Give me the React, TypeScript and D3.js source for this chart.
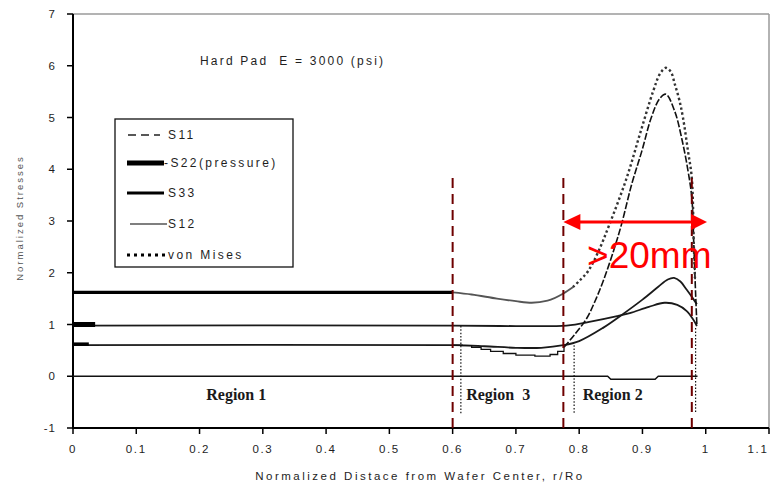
import React from "react";
import * as d3 from "d3";

type Pt = [number, number];

// axes
const xTicks = [0, 0.1, 0.2, 0.3, 0.4, 0.5, 0.6, 0.7, 0.8, 0.9, 1, 1.1];
const xTickLabels = ["0", "0.1", "0.2", "0.3", "0.4", "0.5", "0.6", "0.7", "0.8", "0.9", "1", "1.1"];
const yTicks = [-1, 0, 1, 2, 3, 4, 5, 6, 7];

// von Mises (flat part drawn solid/thick, then curve, then dotted peak)
const vonMisesFlat: Pt[] = [[0, 1.62], [0.6, 1.62]];
const vonMisesDip: Pt[] = [[0.6, 1.62], [0.63, 1.58], [0.67, 1.5], [0.7, 1.45], [0.725, 1.42], [0.75, 1.46], [0.775, 1.6], [0.79, 1.72]];
const vonMisesPeak: Pt[] = [
  [0.79, 1.72], [0.8, 1.84], [0.814, 2.03], [0.83, 2.4], [0.848, 2.94], [0.875, 3.83], [0.896, 4.68],
  [0.917, 5.51], [0.928, 5.85], [0.937, 5.96], [0.945, 5.88], [0.951, 5.65], [0.958, 5.35], [0.964, 5.0],
  [0.972, 4.35], [0.978, 3.83], [0.981, 2.6], [0.983, 1.9],
];

// S11: stepped dip then dashed spike
const s11Step: Pt[] = [
  [0.6, 0.6], [0.615, 0.59], [0.63, 0.56], [0.645, 0.52], [0.66, 0.48], [0.68, 0.44], [0.7, 0.41],
  [0.73, 0.39], [0.754, 0.42], [0.766, 0.48], [0.776, 0.56],
];
const s11Spike: Pt[] = [
  [0.776, 0.56], [0.793, 0.81], [0.812, 1.12], [0.825, 1.45], [0.838, 1.84], [0.855, 2.45], [0.867, 2.94],
  [0.883, 3.71], [0.899, 4.35], [0.914, 5.0], [0.927, 5.36], [0.937, 5.45], [0.951, 5.12], [0.962, 4.6],
  [0.972, 3.97], [0.978, 3.45], [0.981, 2.6], [0.984, 1.6], [0.986, 1.0],
];

const s33: Pt[] = [
  [0, 0.6], [0.6, 0.6], [0.65, 0.58], [0.7, 0.55], [0.74, 0.55], [0.775, 0.6], [0.8, 0.68], [0.837, 0.93],
  [0.869, 1.2], [0.9, 1.48], [0.925, 1.73], [0.94, 1.87], [0.95, 1.9], [0.96, 1.83], [0.97, 1.67],
  [0.98, 1.5], [0.986, 1.39],
];
const s33Stub: Pt[] = [[0, 0.62], [0.025, 0.62]];

const s22: Pt[] = [
  [0, 0.98], [0.6, 0.98], [0.7, 0.97], [0.78, 0.98], [0.82, 1.06], [0.86, 1.16], [0.88, 1.22], [0.91, 1.34],
  [0.935, 1.42], [0.955, 1.38], [0.97, 1.26], [0.98, 1.1], [0.986, 0.97],
];
const s22Stub: Pt[] = [[0, 1], [0.035, 1]];

const s12: Pt[] = [[0, 0], [0.845, 0], [0.85, -0.06], [0.92, -0.06], [0.925, 0], [0.987, 0]];

// region markers
const redBounds = [0.6, 0.775, 0.978];
const redTop = 3.83;
const dotBounds: Pt[] = [[0.613, 0.97], [0.792, 0.6], [0.984, 0.93]];
const dotBottom = -0.72;
const regionLabels = ["Region 1", "Region  3", "Region 2"];
const regionX = [0.258, 0.672, 0.853];
const regionY = -0.36;

const legendNames = ["S11", "-S22(pressure)", "S33", "S12", "von Mises"];

const W = 777;
const H = 484;

export default function App() {
  const x = d3.scaleLinear().domain([0, 1.1]).range([73, 769]);
  const y = d3.scaleLinear().domain([-1, 7]).range([428, 14]);

  const lin = d3.line<Pt>().x((d) => x(d[0])).y((d) => y(d[1]));
  const smooth = d3.line<Pt>().x((d) => x(d[0])).y((d) => y(d[1])).curve(d3.curveMonotoneX);
  const step = d3.line<Pt>().x((d) => x(d[0])).y((d) => y(d[1])).curve(d3.curveStepAfter);
  const cr = d3.line<Pt>().x((d) => x(d[0])).y((d) => y(d[1])).curve(d3.curveCatmullRom.alpha(0.5));

  const font = "'Liberation Sans', Arial, sans-serif";
  const txt = "#1e1e1e";

  const arrowY = y(2.98);
  const ax0 = x(0.775);
  const ax1 = x(1.002);

  const legendY = [135, 163, 193, 224, 255];

  return (
    <svg width={W} height={H} style={{ position: "absolute", left: 0, top: 0, background: "#fff" }}>
      {/* frame */}
      <line x1={x(0)} x2={x(1.1)} y1={y(7)} y2={y(7)} stroke="#9a9a9a" strokeWidth={1.5} />
      <line x1={x(1.1)} x2={x(1.1)} y1={y(7)} y2={y(-1)} stroke="#9a9a9a" strokeWidth={1.5} />

      {/* y axis */}
      <line x1={x(0)} x2={x(0)} y1={y(7)} y2={y(-1) + 1} stroke="#000" strokeWidth={2} />
      {yTicks.map((t) => (
        <g key={"y" + t}>
          <line x1={x(0) - 6} x2={x(0)} y1={y(t)} y2={y(t)} stroke="#000" strokeWidth={1.5} />
          <text x={56} y={y(t)} dy="0.35em" textAnchor="end" fontFamily={font} fontSize={11.5} letterSpacing={1} fill={txt}>
            {t}
          </text>
        </g>
      ))}
      {/* x axis */}
      <line x1={x(0) - 1} x2={x(1.1)} y1={y(-1)} y2={y(-1)} stroke="#000" strokeWidth={2} />
      {xTicks.map((t, i) => (
        <g key={"x" + t}>
          <line x1={x(t)} x2={x(t)} y1={y(-1)} y2={y(-1) + 6} stroke="#000" strokeWidth={1.5} />
          <text
            x={Math.min(x(t), 758)}
            y={449}
            dy="0.35em"
            textAnchor="middle"
            fontFamily={font}
            fontSize={11.5}
            letterSpacing={1.6}
            fill={txt}
          >
            {xTickLabels[i]}
          </text>
        </g>
      ))}

      <text x={420} y={476} dy="0.35em" textAnchor="middle" fontFamily={font} fontSize={11.5} letterSpacing={2.5} fill={txt}>
        Normalized Distace from Wafer Center, r/Ro
      </text>
      <text
        transform={`translate(20,218) rotate(-90)`}
        dy="0.35em"
        textAnchor="middle"
        fontFamily={font}
        fontSize={9.5}
        letterSpacing={2}
        fill="#555"
      >
        Normalized Stresses
      </text>

      <text x={200} y={61} dy="0.35em" fontFamily={font} fontSize={12} letterSpacing={2.2} fill={txt} style={{ whiteSpace: "pre" }}>
        Hard Pad  E = 3000 (psi)
      </text>

      {/* series */}
      <path d={lin(s12) || ""} fill="none" stroke="#111" strokeWidth={1.5} />
      <path d={cr(s22) || ""} fill="none" stroke="#1a1a1a" strokeWidth={1.8} />
      <path d={lin(s22Stub) || ""} fill="none" stroke="#000" strokeWidth={5} />
      <path d={cr(s33) || ""} fill="none" stroke="#1a1a1a" strokeWidth={1.8} />
      <path d={lin(s33Stub) || ""} fill="none" stroke="#000" strokeWidth={3.5} />
      <path d={step(s11Step) || ""} fill="none" stroke="#111" strokeWidth={1.3} />
      <path d={cr(s11Spike) || ""} fill="none" stroke="#111" strokeWidth={1.6} strokeDasharray="7,2" />
      <path d={lin(vonMisesFlat) || ""} fill="none" stroke="#000" strokeWidth={3.2} />
      <path d={smooth(vonMisesDip) || ""} fill="none" stroke="#555" strokeWidth={1.8} />
      <path d={cr(vonMisesPeak) || ""} fill="none" stroke="#333" strokeWidth={2.4} strokeDasharray="2.4,2.6" />

      {/* region bounds */}
      {redBounds.map((b) => (
        <line key={"r" + b} x1={x(b)} x2={x(b)} y1={y(redTop)} y2={y(-1)} stroke="#6e0000" strokeWidth={2} strokeDasharray="10,6" />
      ))}
      {dotBounds.map((b) => (
        <line key={"d" + b[0]} x1={x(b[0])} x2={x(b[0])} y1={y(b[1])} y2={y(dotBottom)} stroke="#111" strokeWidth={1.2} strokeDasharray="1.5,1.8" />
      ))}
      {regionLabels.map((r, i) => (
        <text
          key={r}
          x={x(regionX[i])}
          y={y(regionY)}
          dy="0.35em"
          textAnchor="middle"
          fontFamily="'Liberation Serif', 'Times New Roman', serif"
          fontWeight="bold"
          fontSize={16}
          fill="#1a1a1a"
          style={{ whiteSpace: "pre" }}
        >
          {r}
        </text>
      ))}

      {/* legend */}
      <rect x={115} y={119} width={178} height={148} fill="#fff" stroke="#111" strokeWidth={1.3} />
      <line x1={128} x2={160} y1={legendY[0]} y2={legendY[0]} stroke="#222" strokeWidth={1.5} strokeDasharray="8,5" />
      <line x1={127} x2={164} y1={legendY[1]} y2={legendY[1]} stroke="#000" strokeWidth={5} />
      <line x1={127} x2={164} y1={legendY[2]} y2={legendY[2]} stroke="#000" strokeWidth={3} />
      <line x1={130} x2={167} y1={legendY[3]} y2={legendY[3]} stroke="#000" strokeWidth={1.2} />
      <line x1={127} x2={168} y1={legendY[4]} y2={legendY[4]} stroke="#000" strokeWidth={3} strokeDasharray="3,4" />
      {legendNames.map((n, i) => (
        <text key={n} x={i === 1 ? 164 : 168} y={legendY[i]} dy="0.35em" fontFamily={font} fontSize={12} letterSpacing={2.4} fill={txt}>
          {n}
        </text>
      ))}

      {/* annotation */}
      <line x1={ax0 + 14} x2={ax1 - 14} y1={arrowY} y2={arrowY} stroke="#ff0000" strokeWidth={3} />
      <path d={`M${ax0},${arrowY}L${ax0 + 17},${arrowY - 8}L${ax0 + 17},${arrowY + 8}Z`} fill="#ff0000" />
      <path d={`M${ax1},${arrowY}L${ax1 - 16},${arrowY - 8}L${ax1 - 16},${arrowY + 8}Z`} fill="#ff0000" />
      <text x={x(0.8125)} y={y(2.09)} fontFamily={font} fontSize={37} fill="#ff0000">
        &gt;20mm
      </text>
    </svg>
  );
}
